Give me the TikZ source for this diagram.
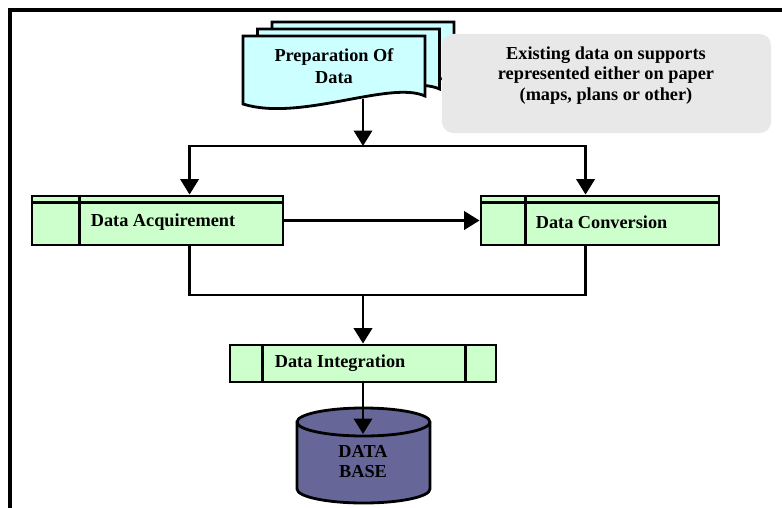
\documentclass[tikz,border=0pt]{standalone}
\usepackage{fontspec}
\setmainfont{Liberation Serif}
\usetikzlibrary{arrows.meta, calc}
\definecolor{docblue}{RGB}{204,255,255}
\definecolor{procgreen}{RGB}{204,255,204}
\definecolor{notegray}{RGB}{232,232,232}
\definecolor{dbslate}{RGB}{102,102,153}
\tikzset{
  procbox/.style={rectangle, draw=black, fill=procgreen, line width=2pt, inner sep=0pt},
  docpage/.style={draw=black, fill=docblue, line width=2pt},
  notebox/.style={rectangle, fill=notegray, rounded corners=8pt, inner sep=0pt},
  txt/.style={font=\fontsize{13}{15.6}\selectfont\bfseries, inner sep=0pt, align=center},
  flow/.style={-{Triangle[width=13pt, length=11pt]}, line width=2pt},
  line/.style={line width=2pt}
}

\begin{document}
\begin{tikzpicture}[x=0.025cm, y=-0.025cm]
  \useasboundingbox (0,0) rectangle (782,507);

  % Frame
  \draw[line width=2.2pt] (10,520) -- (10,10) -- (790,10);

  % Stacked pages, back to front
  \foreach \dx/\dy in {29/-14, 14.5/-7, 0/0} {
    \draw[docpage, shift={(\dx,\dy)}] (243,36) -- (425,36) -- (425,96)
      .. controls (390,80) and (300,122) .. (243,104) -- cycle;
  }
  \node[txt] (prep) at (334,66) {Preparation Of\\Data};
  \coordinate (prepout) at (363,99);

  % Note on existing data
  \node[notebox, minimum width=8.225cm, minimum height=2.475cm] (notebg) at (606.5,83.5) {};
  \node[txt, font=\fontsize{13}{14.5}\selectfont\bfseries] (note) at (606,75.5)
    {Existing data on supports\\represented either on paper\\(maps, plans or other)};

  % Process boxes
  \node[procbox, minimum width=6.275cm, minimum height=1.225cm] (acq) at (157.5,220.5) {};
  \node[procbox, minimum width=5.95cm, minimum height=1.225cm] (conv) at (600,220.5) {};
  \node[procbox, minimum width=6.65cm, minimum height=0.925cm] (integ) at (363,363.5) {};

  % Strips and dividers
  \draw[line] ($(acq.north west)+(0,8)$) -- ($(acq.north east)+(0,8)$);
  \draw[line] ($(acq.north west)+(49,0)$) -- ($(acq.south west)+(49,0)$);
  \draw[line] ($(conv.north west)+(0,8)$) -- ($(conv.north east)+(0,8)$);
  \draw[line] ($(conv.north west)+(46,0)$) -- ($(conv.south west)+(46,0)$);
  \draw[line] ($(integ.north west)+(34,0)$) -- ($(integ.south west)+(34,0)$);
  \draw[line] ($(integ.north east)+(-32,0)$) -- ($(integ.south east)+(-32,0)$);

  \node[txt, anchor=west] (acqlbl) at ($(acq.west)+(60,2)$) {Data Acquirement};
  \node[txt, anchor=west] (convlbl) at ($(conv.west)+(56,2)$) {Data Conversion};
  \node[txt, anchor=west] (integlbl) at ($(integ.west)+(46,0)$) {Data Integration};

  % Database
  \draw[line width=2pt, fill=dbslate] (297,422) -- (297,489)
    arc[start angle=180, end angle=0, x radius=66.5, y radius=14] -- (430,422)
    arc[start angle=0, end angle=-180, x radius=66.5, y radius=14] -- cycle;
  \draw[line width=2pt] (297,422) arc[start angle=180, end angle=0, x radius=66.5, y radius=14];
  \node[txt, font=\fontsize{13}{14.2}\selectfont\bfseries] (db) at (363,462) {DATA\\BASE};
  \coordinate (dbtop) at (363,434);

  % Connectors
  \coordinate (fork) at (363,146);
  \coordinate (merge) at (363,295);
  \draw[flow] (prepout) -- (fork);
  \draw[flow] (fork) -| ($(acq.north west)+(159,0)$);
  \draw[flow] (fork) -| ($(conv.north west)+(106,0)$);
  \draw[flow] (acq.east) -- (conv.west);
  \draw[line] ($(acq.south west)+(159,0)$) |- (merge) -| ($(conv.south west)+(106,0)$);
  \draw[flow] (merge) -- (integ.north);
  \draw[flow] (integ.south) -- (dbtop);
\end{tikzpicture}
\end{document}
